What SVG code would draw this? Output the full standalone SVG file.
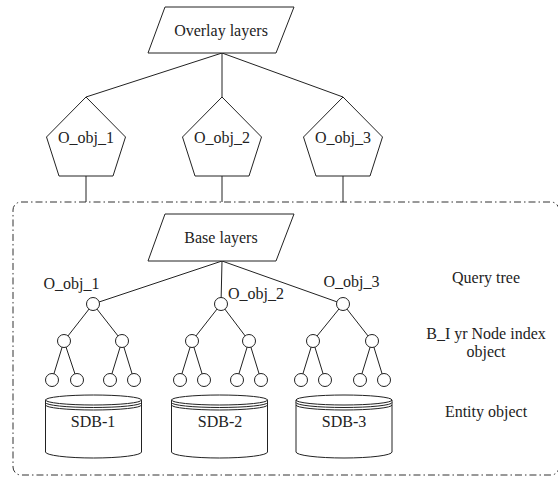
<svg xmlns="http://www.w3.org/2000/svg" width="558" height="479" viewBox="0 0 558 479" font-family="Liberation Serif, DejaVu Serif, serif" font-size="16">
  <style>
    .shape { fill: #fff; stroke: #222; stroke-width: 1; }
    .wire { fill: none; stroke: #222; stroke-width: 1; }
    text { fill: #222; }
    .mid { text-anchor: middle; }
    .frame { fill: none; stroke: #333; stroke-width: 1; stroke-dasharray: 7 3 1.5 3; }
  </style>
  <defs>
    <!-- pentagon centred on x=0 -->
    <polygon id="pent" points="0,97 39.5,137 27,176 -27,176 -39.5,137"/>
    <!-- stacked disk store centred on x=0 -->
    <g id="disk">
      <path class="shape" d="M-48,400 L-48,452 A48,6 0 0 0 48,452 L48,400 Z"/>
      <ellipse class="shape" cx="0" cy="400" rx="48" ry="5"/>
      <path class="wire" d="M-48,402.5 A48,5 0 0 0 48,402.5"/>
      <path class="wire" d="M-48,405 A48,5 0 0 0 48,405"/>
    </g>
  </defs>

  <!-- dash-dot boundary of the base layer -->
  <rect class="frame" x="13" y="202" width="546" height="273" rx="8" ry="8"/>

  <g id="connectors">
    <!-- overlay layer fan-out -->
    <line class="wire" x1="222" y1="53" x2="86" y2="97"/>
    <line class="wire" x1="222" y1="53" x2="222" y2="97"/>
    <line class="wire" x1="222" y1="53" x2="343" y2="97"/>
    <line class="wire" x1="86" y1="176" x2="86" y2="202"/>
    <line class="wire" x1="222" y1="176" x2="222" y2="202"/>
    <line class="wire" x1="343" y1="176" x2="343" y2="202"/>
    <!-- base layer fan-out -->
    <line class="wire" x1="222" y1="261" x2="93" y2="304"/>
    <line class="wire" x1="222" y1="261" x2="221" y2="304"/>
    <line class="wire" x1="222" y1="261" x2="343" y2="304"/>
    <!-- tree 1 -->
    <line class="wire" x1="93" y1="304" x2="64" y2="341"/>
    <line class="wire" x1="93" y1="304" x2="122" y2="341"/>
    <line class="wire" x1="64" y1="341" x2="52" y2="380"/>
    <line class="wire" x1="64" y1="341" x2="77" y2="380"/>
    <line class="wire" x1="122" y1="341" x2="110" y2="380"/>
    <line class="wire" x1="122" y1="341" x2="134" y2="380"/>
    <!-- tree 2 -->
    <line class="wire" x1="221" y1="304" x2="192" y2="341"/>
    <line class="wire" x1="221" y1="304" x2="249" y2="341"/>
    <line class="wire" x1="192" y1="341" x2="180" y2="380"/>
    <line class="wire" x1="192" y1="341" x2="204" y2="380"/>
    <line class="wire" x1="249" y1="341" x2="237" y2="380"/>
    <line class="wire" x1="249" y1="341" x2="261" y2="380"/>
    <!-- tree 3 -->
    <line class="wire" x1="343" y1="304" x2="313" y2="341"/>
    <line class="wire" x1="343" y1="304" x2="372" y2="341"/>
    <line class="wire" x1="313" y1="341" x2="301" y2="380"/>
    <line class="wire" x1="313" y1="341" x2="325" y2="380"/>
    <line class="wire" x1="372" y1="341" x2="360" y2="380"/>
    <line class="wire" x1="372" y1="341" x2="384" y2="380"/>
  </g>

  <g id="overlay-layers">
    <polygon class="shape" points="165,7 294,7 276,53 148,53"/>
    <text class="mid" x="221" y="36">Overlay layers</text>
  </g>

  <g id="o-obj-1">
    <use href="#pent" class="shape" x="86"/>
    <text class="mid" x="86" y="143">O_obj_1</text>
  </g>
  <g id="o-obj-2">
    <use href="#pent" class="shape" x="222"/>
    <text class="mid" x="222" y="143">O_obj_2</text>
  </g>
  <g id="o-obj-3">
    <use href="#pent" class="shape" x="343"/>
    <text class="mid" x="343" y="143">O_obj_3</text>
  </g>

  <g id="base-layers">
    <polygon class="shape" points="165,214 294,214 276,261 148,261"/>
    <text class="mid" x="221" y="243">Base layers</text>
  </g>

  <g id="tree-1">
    <circle class="shape" cx="93" cy="304" r="6.5"/>
    <circle class="shape" cx="64" cy="341" r="6.5"/>
    <circle class="shape" cx="122" cy="341" r="6.5"/>
    <circle class="shape" cx="52" cy="380" r="6.5"/>
    <circle class="shape" cx="77" cy="380" r="6.5"/>
    <circle class="shape" cx="110" cy="380" r="6.5"/>
    <circle class="shape" cx="134" cy="380" r="6.5"/>
    <text class="mid" x="71.5" y="289">O_obj_1</text>
  </g>
  <g id="tree-2">
    <circle class="shape" cx="221" cy="304" r="6.5"/>
    <circle class="shape" cx="192" cy="341" r="6.5"/>
    <circle class="shape" cx="249" cy="341" r="6.5"/>
    <circle class="shape" cx="180" cy="380" r="6.5"/>
    <circle class="shape" cx="204" cy="380" r="6.5"/>
    <circle class="shape" cx="237" cy="380" r="6.5"/>
    <circle class="shape" cx="261" cy="380" r="6.5"/>
    <text x="228" y="299">O_obj_2</text>
  </g>
  <g id="tree-3">
    <circle class="shape" cx="343" cy="304" r="6.5"/>
    <circle class="shape" cx="313" cy="341" r="6.5"/>
    <circle class="shape" cx="372" cy="341" r="6.5"/>
    <circle class="shape" cx="301" cy="380" r="6.5"/>
    <circle class="shape" cx="325" cy="380" r="6.5"/>
    <circle class="shape" cx="360" cy="380" r="6.5"/>
    <circle class="shape" cx="384" cy="380" r="6.5"/>
    <text class="mid" x="351.5" y="287">O_obj_3</text>
  </g>

  <g id="sdb-1">
    <use href="#disk" x="93.5"/>
    <text class="mid" x="93" y="427">SDB-1</text>
  </g>
  <g id="sdb-2">
    <use href="#disk" x="219.5"/>
    <text class="mid" x="220" y="427">SDB-2</text>
  </g>
  <g id="sdb-3">
    <use href="#disk" x="344"/>
    <text class="mid" x="344" y="427">SDB-3</text>
  </g>

  <g id="legend">
    <text class="mid" x="486" y="283">Query tree</text>
    <text class="mid" x="486" y="339">B_I yr Node index</text>
    <text class="mid" x="486" y="357">object</text>
    <text class="mid" x="486" y="417">Entity object</text>
  </g>
</svg>
